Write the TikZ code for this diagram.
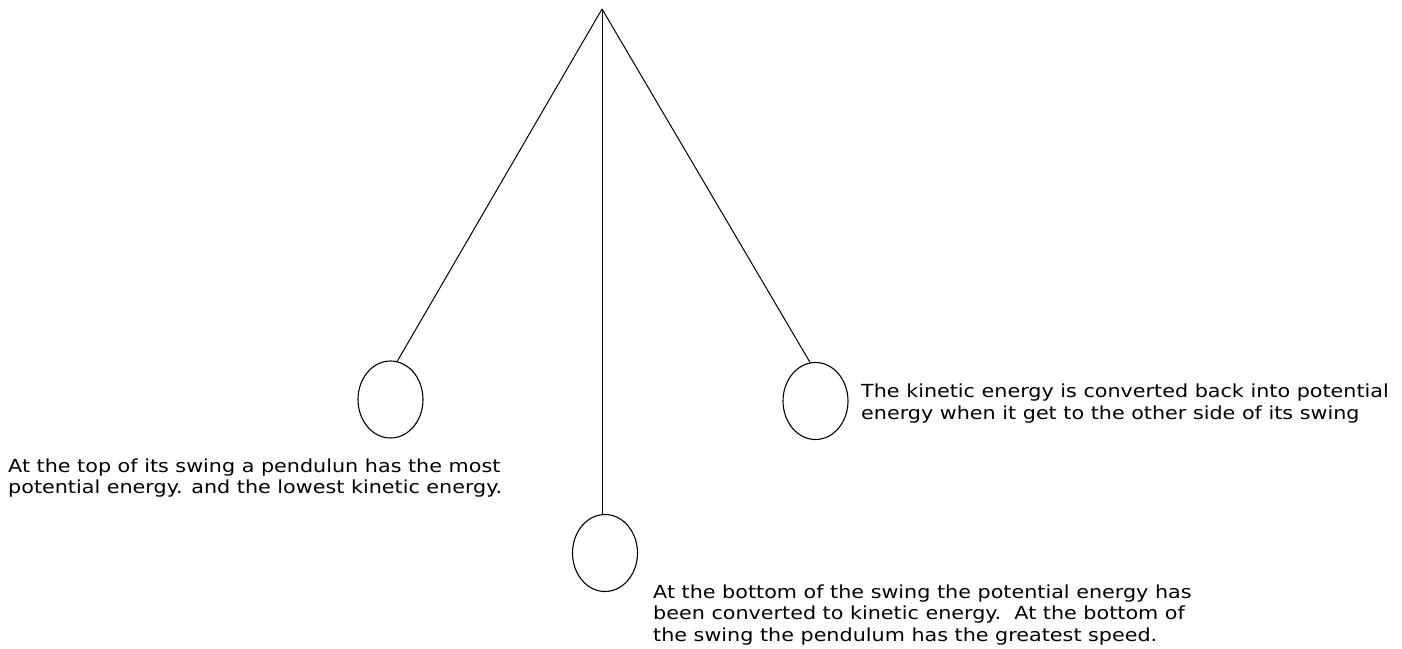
\documentclass[tikz,border=0pt]{standalone}
\usepackage{fontspec}
\setmainfont{DejaVu Sans}[FakeStretch=1.15]
\usetikzlibrary{shapes.geometric}
\begin{document}
\begin{tikzpicture}[x=1pt,y=-1pt,
  string/.style={draw=black,line width=1pt},
  bob/.style={ellipse,draw=black,line width=1.1pt,minimum width=65pt,minimum height=77pt,inner sep=0pt},
  caption/.style={anchor=base west,inner sep=0pt,align=left,font=\fontsize{18}{21.5}\selectfont}]
  \useasboundingbox (0,0) rectangle (1402,648);
  \fill[white] (0,0) rectangle (1402,648);
  % pivot and the three positions of the bob
  \coordinate (pivot) at (602,9);
  \node[bob] (left) at (390.5,399.5) {};
  \node[bob] (mid) at (605,553) {};
  \node[bob] (right) at (815.5,401) {};
  \draw[string] (pivot) -- (left.80);
  \draw[string] (pivot) -- (mid.north -| pivot);
  \draw[string] (pivot) -- (right.98);
  % explanations (anchored at the baseline of their last line)
  \node[caption] (tleft) at (8,493.5) {At the top of its swing a pendulun has the most\\potential energy. and the lowest kinetic energy.};
  \node[caption] (tright) at (861,419) {The kinetic energy is converted back into potential\\energy when it get to the other side of its swing};
  \node[caption] (tmid) at (653,641) {At the bottom of the swing the potential energy has\\been converted to kinetic energy.\ \ At the bottom of\\the swing the pendulum has the greatest speed.};
\end{tikzpicture}
\end{document}
